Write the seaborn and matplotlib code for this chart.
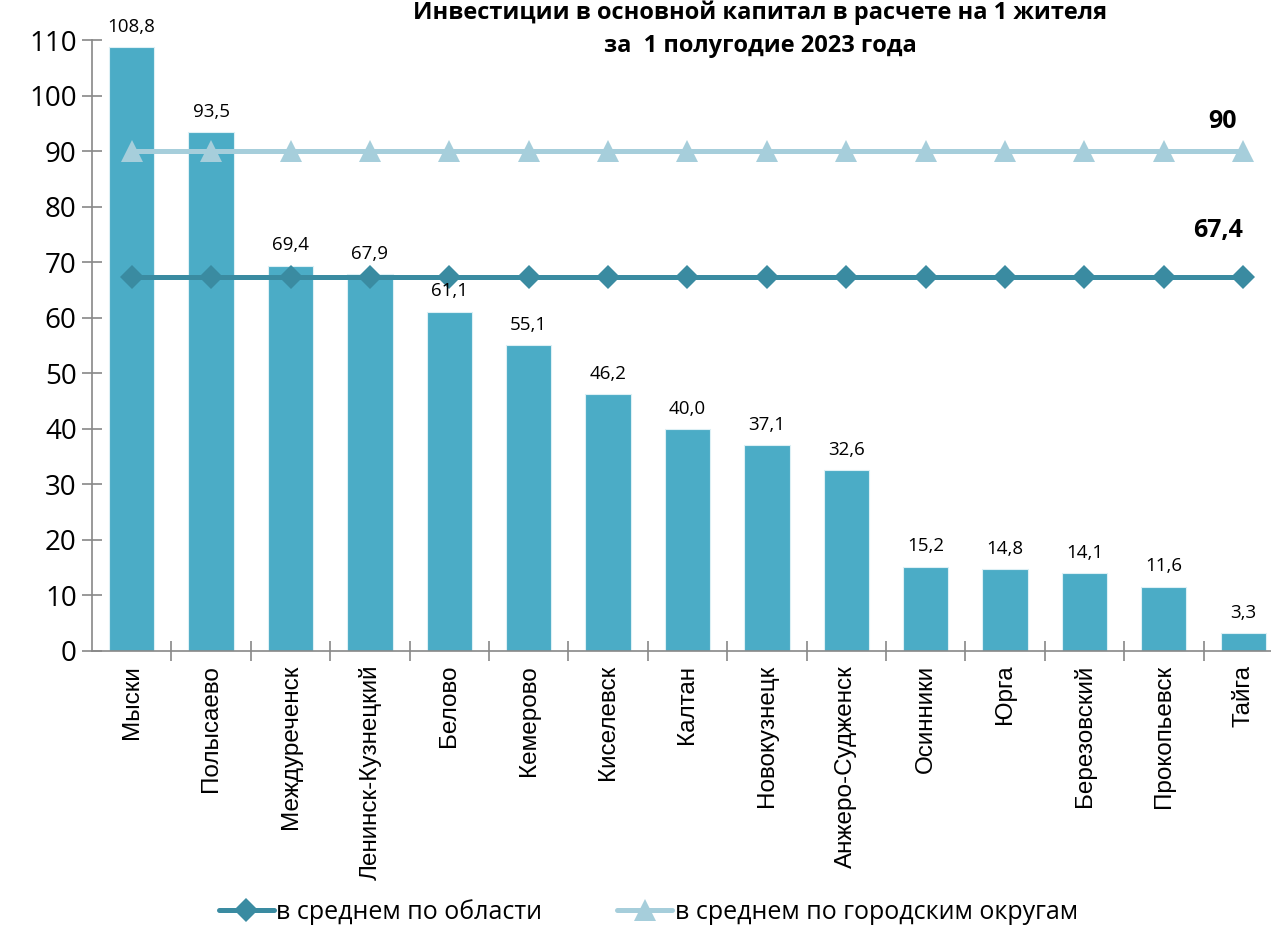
import matplotlib
matplotlib.use("Agg")
import matplotlib.pyplot as plt
import seaborn as sns
import pandas as pd

# данные
cities = ["Мыски", "Полысаево", "Междуреченск", "Ленинск-Кузнецкий", "Белово",
          "Кемерово", "Киселевск", "Калтан", "Новокузнецк", "Анжеро-Судженск",
          "Осинники", "Юрга", "Березовский", "Прокопьевск", "Тайга"]
values = [108.8, 93.5, 69.4, 67.9, 61.1, 55.1, 46.2, 40.0, 37.1, 32.6,
          15.2, 14.8, 14.1, 11.6, 3.3]
avg_region = 67.4
avg_okrug = 90
legend_labels = ["в среднем по области", "в среднем по городским округам"]
title = "Инвестиции в основной капитал в расчете на 1 жителя\nза  1 полугодие 2023 года"

df = pd.DataFrame({"city": cities, "value": values})
df["region"] = avg_region
df["okrug"] = avg_okrug

sns.set_style("white")
plt.rcParams["font.family"] = ["Open Sans", "DejaVu Sans"]
plt.rcParams["text.color"] = "black"
plt.rcParams["xtick.color"] = "black"
plt.rcParams["ytick.color"] = "black"

bar_color = "#4BACC6"
dark_line = "#3A8BA1"
light_line = "#A6CEDB"

fig = plt.figure(figsize=(12.71, 9.26), dpi=100)
ax = fig.add_axes([0.0724, 0.297, 0.937, 0.6598])

sns.barplot(data=df, x="city", y="value", color=bar_color, width=0.57,
            edgecolor="#DDF0F5", linewidth=0.8, saturation=1, ax=ax)

xs = list(range(len(cities)))
sns.lineplot(x=xs, y=df["region"], color=dark_line, lw=3.6, marker="D",
             markersize=12, markeredgewidth=0, ax=ax, label=legend_labels[0])
sns.lineplot(x=xs, y=df["okrug"], color=light_line, lw=3.6, marker="^",
             markersize=16, markeredgewidth=0, ax=ax, label=legend_labels[1])

# подписи над столбцами
for i, v in enumerate(values):
    ax.annotate(f"{v:.1f}".replace(".", ","), (i, v), xytext=(0, 8),
                textcoords="offset points", ha="center", va="bottom", fontsize=13.5)

ax.annotate(f"{avg_okrug}", (len(cities) - 1, avg_okrug), xytext=(-5, 12),
            textcoords="offset points", ha="right", va="bottom",
            fontsize=18, fontweight="bold")
ax.annotate(f"{avg_region}".replace(".", ","), (len(cities) - 1, avg_region),
            xytext=(0, 24), textcoords="offset points", ha="right", va="bottom",
            fontsize=18, fontweight="bold")

ax.set_xlim(-0.5, len(cities) - 0.5)
ax.set_ylim(0, 110)
ax.set_yticks(range(0, 111, 10))
ax.set_xlabel("")
ax.set_ylabel("")

for s in ["top", "right"]:
    ax.spines[s].set_visible(False)
for s in ["left", "bottom"]:
    ax.spines[s].set_color("#888888")
    ax.spines[s].set_linewidth(1.2)

ax.tick_params(axis="y", direction="inout", length=14, width=1.2,
               color="#888888", labelcolor="black", labelsize=20, left=True, pad=4)
ax.set_xticks([i - 0.5 for i in range(1, len(cities))], minor=True)
ax.set_xticks(xs)
ax.set_xticklabels(cities, rotation=90, fontsize=17.5,
                   family=["Liberation Sans", "DejaVu Sans"])
ax.tick_params(axis="x", which="major", length=0, pad=10, labelcolor="black")
ax.tick_params(axis="x", which="minor", direction="inout", length=14,
               width=1.2, color="#888888", bottom=True)

ax.legend(loc="center", ncol=2, frameon=False, fontsize=18,
          handlelength=2.2, columnspacing=3, handletextpad=0.1)
leg = ax.get_legend()
leg.set_bbox_to_anchor((0.51, 0.015), transform=fig.transFigure)
for t in leg.get_texts():
    t.set_color("black")

fig.text(0.598, 0.968, title, ha="center", va="center", fontsize=17,
         fontweight="bold", linespacing=1.5)

fig.savefig("out.png", dpi=100)
